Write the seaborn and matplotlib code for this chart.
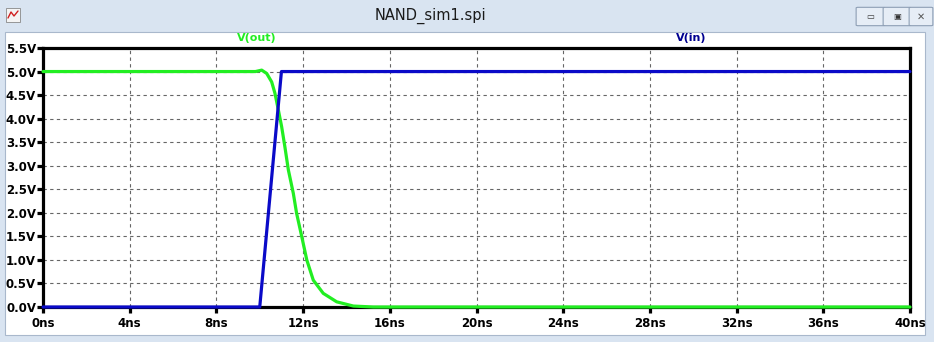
import matplotlib
matplotlib.use("Agg")
import matplotlib.pyplot as plt
import seaborn as sns
import pandas as pd
from matplotlib.patches import Rectangle, FancyBboxPatch

# ---- data ----
t_in = [0, 10, 11, 40]
v_in = [0.0, 0.0, 5.0, 5.0]
t_out = [0, 9.8, 10.09, 10.32, 10.55, 10.70, 10.86, 11.01, 11.16, 11.32, 11.55, 11.70,
         11.94, 12.17, 12.47, 12.93, 13.55, 14.32, 15.24, 40]
v_out = [5.0, 5.0, 5.03, 4.96, 4.78, 4.54, 4.18, 3.83, 3.40, 2.91, 2.41, 1.99,
         1.49, 1.00, 0.57, 0.29, 0.11, 0.02, 0.0, 0.0]
x_ticks = [0, 4, 8, 12, 16, 20, 24, 28, 32, 36, 40]
x_labels = [f"{v}ns" for v in x_ticks]
y_ticks = [0.0, 0.5, 1.0, 1.5, 2.0, 2.5, 3.0, 3.5, 4.0, 4.5, 5.0, 5.5]
y_labels = [f"{v:.1f}V" for v in y_ticks]
title = "NAND_sim1.spi"
series_names = ["V(out)", "V(in)"]

sns.set_style("white")
plt.rcParams['font.family'] = ['DejaVu Sans']

W, H = 934, 342
fig = plt.figure(figsize=(W / 100, H / 100), dpi=100)
fig.patch.set_facecolor("#d9e4f1")

# white inner panel
fig.patches.append(Rectangle((5 / W, (H - 335) / H), 920 / W, 303 / H,
                             transform=fig.transFigure, facecolor="white",
                             edgecolor="#a9b8cc", linewidth=0.8, zorder=-5))
# title
fig.text(430 / W, 1 - 16 / H, title, ha="center", va="center", fontsize=10.5, color="#1a1a1a")
# window buttons
for x0, w0 in [(858, 25), (885, 24), (911, 20)]:
    fig.patches.append(FancyBboxPatch((x0 / W, (H - 25) / H), w0 / W, 17 / H,
                                      boxstyle="round,pad=0.002", transform=fig.transFigure,
                                      facecolor="#e6edf6", edgecolor="#8e9fb5", linewidth=0.8,
                                      zorder=-4))
fig.text(870.5 / W, 1 - 17 / H, "▭", ha="center", va="center", fontsize=6, color="#333")
fig.text(897 / W, 1 - 17 / H, "▣", ha="center", va="center", fontsize=6, color="#333")
fig.text(921 / W, 1 - 17 / H, "✕", ha="center", va="center", fontsize=7, color="#555")
# small icon
fig.patches.append(Rectangle((6 / W, (H - 22) / H), 14 / W, 14 / H, transform=fig.transFigure,
                             facecolor="#f4f4f4", edgecolor="#888", linewidth=0.6, zorder=-4))
fig.lines.append(plt.Line2D([8 / W, 11 / W, 14 / W, 18 / W],
                            [1 - 18 / H, 1 - 12 / H, 1 - 16 / H, 1 - 11 / H],
                            transform=fig.transFigure, color="#d02020", linewidth=1))

ax = fig.add_axes([43 / W, (H - 307) / H, (910 - 43) / W, (307 - 48) / H])
ax.set_zorder(5)
ax.set_facecolor("white")

df_out = pd.DataFrame({"t": t_out, "v": v_out})
df_in = pd.DataFrame({"t": t_in, "v": v_in})
sns.lineplot(data=df_out, x="t", y="v", ax=ax, color="#22ee22", linewidth=2.3,
             estimator=None, zorder=3, clip_on=False)
sns.lineplot(data=df_in, x="t", y="v", ax=ax, color="#0a0ac8", linewidth=2.3,
             estimator=None, zorder=4, clip_on=False)

ax.set_xlim(0, 40)
ax.set_ylim(0, 5.5)
ax.set_xticks(x_ticks)
ax.set_xticklabels(x_labels)
ax.set_yticks(y_ticks)
ax.set_yticklabels(y_labels)
ax.set_xlabel("")
ax.set_ylabel("")
ax.grid(True, color="#666666", linestyle=(0, (3, 3)), linewidth=0.8)
ax.tick_params(axis="both", which="major", direction="out", length=4, width=2.3,
               color="black", labelcolor="black", labelsize=8.5, bottom=True, left=True)
ax.tick_params(axis="x", pad=3)
ax.tick_params(axis="y", pad=1)
for lab in ax.get_xticklabels() + ax.get_yticklabels():
    lab.set_fontweight("bold")
for s in ax.spines.values():
    s.set_visible(True)
    s.set_linewidth(2.3)
    s.set_color("black")
    s.set_zorder(2)

fig.text(257 / W, 1 - 38 / H, series_names[0], ha="center", va="center",
         fontsize=8, fontweight="bold", color="#22ee22")
fig.text(691 / W, 1 - 38 / H, series_names[1], ha="center", va="center",
         fontsize=8, fontweight="bold", color="#000090")

fig.savefig("out.png", dpi=100, facecolor=fig.get_facecolor())
